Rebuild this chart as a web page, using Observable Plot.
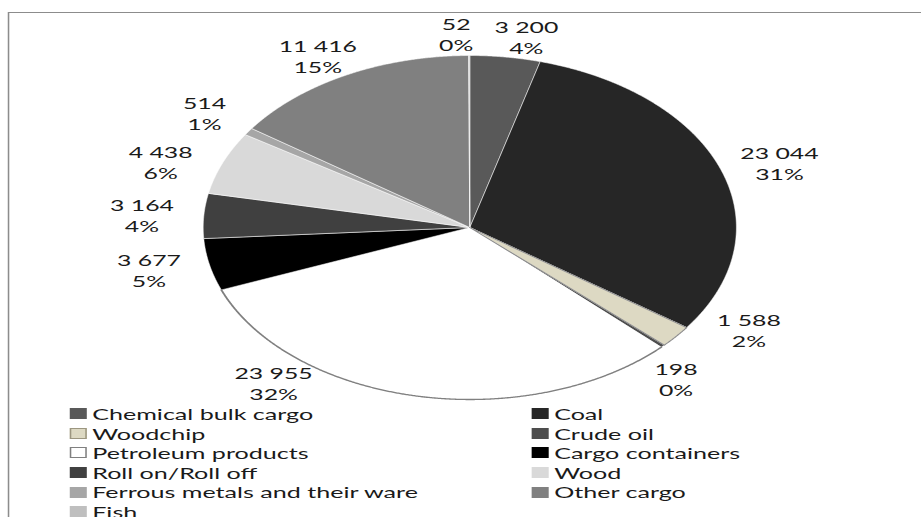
<!DOCTYPE html>
<html>
<head>
<meta charset="utf-8">
<script src="https://cdn.jsdelivr.net/npm/d3@7"></script>
<script src="https://cdn.jsdelivr.net/npm/@observablehq/plot@0.6"></script>
<style>
  html, body { margin: 0; padding: 0; background: #fff; overflow: hidden; width: 921px; height: 517px; }
  #stage { position: absolute; left: 0; top: 0; width: 594px; height: 517px;
           transform: scaleX(1.55); transform-origin: 0 0; font-family: Lato, sans-serif; color: #1a1a1a; font-weight: 400; }
  #frame { position: absolute; left: 4.5px; top: 12px; width: 620px; height: 700px;
           border: 1px solid #8c8c8c; box-sizing: border-box; }
  #chart { position: absolute; left: 0; top: 0; }
  #legend { position: absolute; left: 44.5px; top: 404px; display: grid;
            grid-template-columns: 298px 298px; grid-auto-rows: 19.6px; font-size: 16.2px; line-height: 19.6px; }
  .item { display: flex; align-items: center; white-space: nowrap; }
  .sw { width: 11px; height: 11px; margin-right: 4px; box-sizing: border-box; flex: none; }
</style>
</head>
<body>
<div id="stage">
  <div id="frame"></div>
  <div id="chart"></div>
  <div id="legend"></div>
</div>
<script>
// ---- data ----
const categories = ["Chemical bulk cargo", "Coal", "Woodchip", "Crude oil", "Petroleum products",
  "Cargo containers", "Roll on/Roll off", "Wood", "Ferrous metals and their ware", "Other cargo", "Fish"];
const values = [3200, 23044, 1588, 198, 23955, 3677, 3164, 4438, 514, 11416, 52];

// ---- styles ----
const colors = ["#595959", "#262626", "#ddd9c3", "#4d4d4d", "#ffffff",
  "#000000", "#404040", "#d9d9d9", "#a6a6a6", "#808080", "#bfbfbf"];
const swatchBorders = { "Woodchip": "#9c9680", "Petroleum products": "#808080" };

// ---- layout (unscaled coordinates; stage is stretched horizontally) ----
const W = 594, H = 405;
const CX = 302.6, CY = 227, R = 172;
const PADX = 40, PADY = 22;
const LEGEND_TOP = 404;

const total = d3.sum(values);
const data = categories.map((c, i) => ({ category: c, value: values[i] }));
const fmt = v => d3.format(",")(v).replace(/,/g, " ");

const arcs = d3.pie().sort(null).value(d => d.value)(data);

// slice polygons (x = sin, y = cos so 0 rad is 12 o'clock, clockwise)
const step = Math.PI / 720;
function arcPoints(a) {
  const n = Math.max(2, Math.ceil((a.endAngle - a.startAngle) / step));
  const pts = [];
  for (let i = 0; i <= n; i++) {
    const t = a.startAngle + (a.endAngle - a.startAngle) * i / n;
    pts.push({ category: a.data.category, x: Math.sin(t), y: Math.cos(t) });
  }
  return pts;
}
const polys = arcs.flatMap(a => [
  { category: a.data.category, x: 0, y: 0 },
  ...arcPoints(a),
  { category: a.data.category, x: 0, y: 0 }
]);
const petroArc = arcPoints(arcs.find(a => a.data.category === "Petroleum products"));
const woodchipPoly = polys.filter(p => p.category === "Woodchip");

// label placement: outside the rim at the mid angle, with simple collision avoidance
const labels = arcs.map(a => {
  const l1 = fmt(a.data.value), l2 = Math.round(a.data.value / total * 100) + "%";
  return { t: (a.startAngle + a.endAngle) / 2, text: l1 + "\n" + l2,
           w: Math.max(l1.length, l2.length) * 7.7 + 6, h: 42 };
});
const pos = t => [CX + Math.sin(t) * (R + PADX), CY - Math.cos(t) * (R + PADY)];
const GAPX = 12, GAPY = 6, dt = Math.PI / 720;
for (let it = 0; it < 3000; it++) {
  let moved = false;
  for (const L of labels) {
    const [, py] = pos(L.t);
    if (py + L.h / 2 > LEGEND_TOP) { L.t += (L.t > Math.PI ? 1 : -1) * dt; moved = true; }
  }
  for (let i = 0; i < labels.length; i++) {
    const A = labels[i], B = labels[(i + 1) % labels.length];
    const [ax, ay] = pos(A.t), [bx, by] = pos(B.t);
    if (Math.abs(ax - bx) < (A.w + B.w) / 2 + GAPX && Math.abs(ay - by) < (A.h + B.h) / 2 + GAPY) {
      A.t -= dt; B.t += dt; moved = true;
    }
  }
  if (!moved) break;
}
const labelData = labels.map(L => {
  const [px, py] = pos(L.t);
  return { lx: (px - CX) / R, ly: (CY - py) / R, text: L.text };
});

const plot = Plot.plot({
  width: W, height: H, margin: 0,
  style: { background: "none", fontFamily: "Lato, sans-serif", overflow: "visible" },
  x: { domain: [-1, 1], range: [CX - R, CX + R], axis: null },
  y: { domain: [-1, 1], range: [CY + R, CY - R], axis: null },
  color: { domain: categories, range: colors },
  marks: [
    Plot.line(polys, { x: "x", y: "y", z: "category", fill: "category",
      stroke: "#ffffff", strokeWidth: 0.6, strokeOpacity: 0.7, curve: "linear" }),
    Plot.line(woodchipPoly, { x: "x", y: "y", stroke: "#8c8c8c", strokeWidth: 0.9, curve: "linear" }),
    Plot.line(petroArc, { x: "x", y: "y", stroke: "#808080", strokeWidth: 1.3, curve: "linear" }),
    Plot.text(labelData, { x: "lx", y: "ly", text: "text", fontSize: 16, lineHeight: 1.31,
      fill: "#1a1a1a", fontWeight: 400, fontFamily: "Lato, sans-serif" })
  ]
});
document.getElementById("chart").appendChild(plot);

// legend
const legend = d3.select("#legend");
categories.forEach((c, i) => {
  const it = legend.append("div").attr("class", "item");
  it.append("div").attr("class", "sw")
    .style("background", colors[i])
    .style("border", swatchBorders[c] ? `1.5px solid ${swatchBorders[c]}` : "none");
  it.append("span").text(c);
});
</script>
</body>
</html>
